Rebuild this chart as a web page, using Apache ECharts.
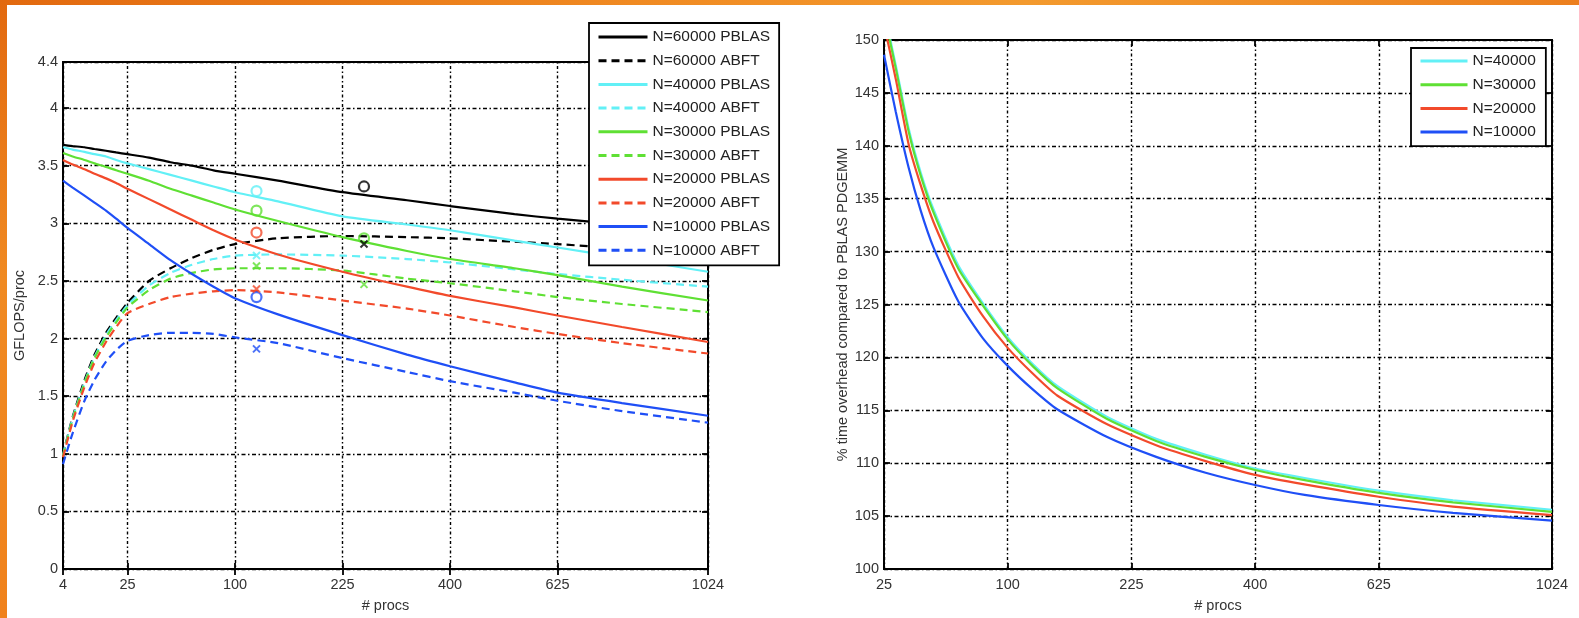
<!DOCTYPE html>
<html>
<head>
<meta charset="utf-8">
<script src="https://cdn.jsdelivr.net/npm/echarts@6.0.0/dist/echarts.min.js"></script>
<style>
  html, body { margin: 0; padding: 0; background: #fff; }
  #main { position: absolute; left: 0; top: 0; width: 1579px; height: 618px; }
  #barTop { position: absolute; left: 0; top: 0; width: 1579px; height: 5px; z-index: 5;
    background: linear-gradient(90deg, #e2690f 0%, #f08a22 40%, #f39a2e 65%, #ec7f1e 100%); }
  #barLeft { position: absolute; left: 0; top: 0; width: 7px; height: 618px; z-index: 5;
    background: linear-gradient(180deg, #e2690f 0%, #f08a22 45%, #f0821c 100%); }
</style>
</head>
<body>
<div id="main"></div>
<div id="barTop"></div>
<div id="barLeft"></div>
<script>
// ---- left plot: GFLOPS/proc vs # procs ----
var procs = [4, 6, 9, 12, 16, 20, 25, 36, 49, 64, 81, 100, 144, 225, 324, 400, 529, 625, 784, 1024];
var pblas60000 = [3.68, 3.67, 3.66, 3.645, 3.63, 3.615, 3.60, 3.57, 3.53, 3.50, 3.46, 3.43, 3.37, 3.27, 3.20, 3.15, 3.08, 3.04, 2.99, 2.93];
var abft60000  = [0.99, 1.32, 1.64, 1.86, 2.05, 2.18, 2.31, 2.50, 2.61, 2.70, 2.77, 2.82, 2.87, 2.89, 2.88, 2.87, 2.84, 2.82, 2.78, 2.72];
var pblas40000 = [3.66, 3.64, 3.62, 3.60, 3.58, 3.55, 3.52, 3.47, 3.42, 3.37, 3.32, 3.27, 3.19, 3.06, 2.99, 2.94, 2.85, 2.79, 2.70, 2.58];
var abft40000  = [0.99, 1.31, 1.62, 1.84, 2.03, 2.16, 2.29, 2.46, 2.57, 2.64, 2.69, 2.72, 2.73, 2.72, 2.69, 2.66, 2.60, 2.56, 2.51, 2.45];
var pblas30000 = [3.61, 3.58, 3.55, 3.52, 3.49, 3.46, 3.43, 3.37, 3.30, 3.24, 3.18, 3.12, 3.02, 2.88, 2.76, 2.69, 2.61, 2.55, 2.45, 2.33];
var abft30000  = [0.98, 1.30, 1.61, 1.83, 2.01, 2.14, 2.27, 2.42, 2.52, 2.57, 2.60, 2.61, 2.61, 2.59, 2.52, 2.48, 2.41, 2.36, 2.30, 2.23];
var pblas20000 = [3.55, 3.51, 3.47, 3.43, 3.39, 3.35, 3.30, 3.21, 3.12, 3.03, 2.94, 2.86, 2.73, 2.58, 2.45, 2.37, 2.27, 2.20, 2.10, 1.97];
var abft20000  = [0.97, 1.28, 1.58, 1.79, 1.97, 2.10, 2.22, 2.30, 2.36, 2.39, 2.41, 2.42, 2.40, 2.33, 2.26, 2.20, 2.10, 2.04, 1.96, 1.87];
var pblas10000 = [3.37, 3.31, 3.24, 3.18, 3.11, 3.04, 2.96, 2.82, 2.68, 2.56, 2.45, 2.35, 2.21, 2.03, 1.86, 1.76, 1.62, 1.53, 1.44, 1.33];
var abft10000  = [0.91, 1.18, 1.46, 1.64, 1.80, 1.90, 1.98, 2.03, 2.05, 2.05, 2.04, 2.01, 1.96, 1.83, 1.71, 1.63, 1.53, 1.46, 1.37, 1.27];

// measured points: o = PBLAS, x = ABFT   [procs, value]
var pblasPts60000 = [[256, 3.32]];
var pblasPts40000 = [[121, 3.28]];
var pblasPts30000 = [[121, 3.11], [256, 2.87]];
var pblasPts20000 = [[121, 2.92]];
var pblasPts10000 = [[121, 2.36]];
var abftPts60000 = [[256, 2.82]];
var abftPts40000 = [[121, 2.72]];
var abftPts30000 = [[121, 2.63], [256, 2.47]];
var abftPts20000 = [[121, 2.43]];
var abftPts10000 = [[121, 1.91]];

var procTicks = [4, 25, 100, 225, 400, 625, 1024];
var gflopsTicks = [0, 0.5, 1, 1.5, 2, 2.5, 3, 3.5, 4, 4.4];

// ---- right plot: % overhead ----
var ovhProcs = [25, 30, 36, 42, 49, 64, 81, 100, 121, 144, 196, 256, 324, 400, 484, 625, 784, 1024];
var ovh40000 = [152.8, 147.6, 141.6, 137.5, 134.0, 128.7, 125.1, 121.9, 119.4, 117.3, 114.4, 112.3, 110.8, 109.5, 108.6, 107.4, 106.5, 105.6];
var ovh30000 = [152.5, 147.3, 141.3, 137.2, 133.7, 128.4, 124.9, 121.7, 119.2, 117.1, 114.2, 112.1, 110.6, 109.36, 108.4, 107.2, 106.3, 105.4];
var ovh20000 = [151.5, 146.3, 140.1, 136.3, 132.8, 127.6, 123.9, 120.9, 118.5, 116.4, 113.7, 111.7, 110.2, 108.9, 108.0, 106.83, 105.9, 105.1];
var ovh10000 = [148.6, 143.2, 137.9, 133.9, 130.4, 125.3, 121.8, 119.2, 117.0, 115.1, 112.5, 110.6, 109.1, 107.94, 107.0, 106.05, 105.3, 104.57];
var ovhProcTicks = [25, 100, 225, 400, 625, 1024];
var ovhTicks = [100, 105, 110, 115, 120, 125, 130, 135, 140, 145, 150];

var cBlack = '#000000', cCyan = '#62f0f6', cGreen = '#5fe034', cRed = '#f24a2b', cBlue = '#1f4ff6';
var font = 'Liberation Sans, Arial, sans-serif';

// x axis is linear in sqrt(procs)
function toSqrt(list) { return list.map(function (p) { return Math.sqrt(p); }); }
function pairs(xs, ys) { return xs.map(function (p, i) { return [Math.sqrt(p), ys[i]]; }); }
function pts(list) { return list.map(function (d) { return [Math.sqrt(d[0]), d[1]]; }); }

var gridLineX = { show: true, lineStyle: { color: '#000', width: 1.4, type: [1.5, 2.5, 3, 2.5] } };
var gridLineY = { show: true, lineStyle: { color: '#000', width: 1.4, type: [4, 2.5, 1.5, 2.5] } };

function xAx(grid, pos, ticks, main, minP, maxP) {
  var vals = toSqrt(ticks);
  return {
    type: 'value', gridIndex: grid, position: pos,
    min: Math.sqrt(minP), max: Math.sqrt(maxP),
    name: main ? '# procs' : '', nameLocation: 'middle', nameGap: 29,
    nameTextStyle: { fontFamily: font, fontSize: 14.5, color: '#333' },
    axisLine: { show: true, lineStyle: { color: '#000', width: 1.8 } },
    axisTick: { show: true, inside: true, length: 6, customValues: vals, lineStyle: { color: '#000', width: 1.8 } },
    axisLabel: { show: main, customValues: vals, margin: 8, fontFamily: font, fontSize: 14.5, color: '#333',
      formatter: function (v) { return String(Math.round(v * v)); } },
    splitLine: main ? gridLineX : { show: false }
  };
}
function yAx(grid, pos, ticks, main, mn, mx, step, nm, gap) {
  return {
    type: 'value', gridIndex: grid, position: pos, min: mn, max: mx, interval: step,
    name: main ? nm : '', nameLocation: 'middle', nameGap: gap,
    nameTextStyle: { fontFamily: font, fontSize: 14.5, color: '#333' },
    axisLine: { show: true, lineStyle: { color: '#000', width: 1.8 } },
    axisTick: { show: true, inside: true, length: 6, customValues: ticks, lineStyle: { color: '#000', width: 1.8 } },
    axisLabel: { show: main, customValues: ticks, margin: 5, fontFamily: font, fontSize: 14.5, color: '#333' },
    splitLine: main ? gridLineY : { show: false }
  };
}

function line(name, data, color, dashed, xi) {
  return {
    name: name, type: 'line', xAxisIndex: xi, yAxisIndex: xi, data: data,
    symbol: 'none', showSymbol: false, silent: true, z: 3,
    smooth: 0.2,
    lineStyle: { color: color, width: 2.2, type: dashed ? [8, 5] : 'solid' },
    itemStyle: { color: color }
  };
}
function marks(data, color, isX) {
  return {
    type: 'scatter', xAxisIndex: 0, yAxisIndex: 0, data: pts(data), silent: true, z: 4,
    symbol: isX ? 'path://M0,0L10,10M10,0L0,10' : 'circle',
    symbolSize: isX ? 7 : 10,
    itemStyle: { color: 'rgba(0,0,0,0)', borderColor: color, borderWidth: isX ? 2 : 2.2 }
  };
}

var leftNames = ['N=60000 PBLAS', 'N=60000 ABFT', 'N=40000 PBLAS', 'N=40000 ABFT', 'N=30000 PBLAS',
  'N=30000 ABFT', 'N=20000 PBLAS', 'N=20000 ABFT', 'N=10000 PBLAS', 'N=10000 ABFT'];
var rightNames = ['N=40000', 'N=30000', 'N=20000', 'N=10000'];

var legendBase = {
  orient: 'vertical', backgroundColor: '#fff', borderColor: '#000', borderWidth: 1.8, borderRadius: 0,
  itemHeight: 14, itemGap: 7.7, selectedMode: false,
  itemStyle: { color: 'rgba(0,0,0,0)', opacity: 0, borderWidth: 0 },
  lineStyle: { width: 3 },
  textStyle: { fontFamily: font, fontSize: 15.5, color: '#222' }
};

var chart = echarts.init(document.getElementById('main'), null, { renderer: 'canvas' });
var option = {
  animation: false,
  backgroundColor: '#fff',
  grid: [
    { left: 63, top: 62, right: 871, bottom: 46, show: true, borderColor: '#000', borderWidth: 1.8, backgroundColor: 'transparent' },
    { left: 884, top: 40, right: 27, bottom: 49, show: true, borderColor: '#000', borderWidth: 1.8, backgroundColor: 'transparent' }
  ],
  xAxis: [
    xAx(0, 'bottom', procTicks, true, 4, 1024),
    xAx(0, 'top', procTicks, false, 4, 1024),
    xAx(1, 'bottom', ovhProcTicks, true, 25, 1024),
    xAx(1, 'top', ovhProcTicks, false, 25, 1024)
  ],
  yAxis: [
    yAx(0, 'left', gflopsTicks, true, 0, 4.4, 0.5, 'GFLOPS/proc', 36),
    yAx(0, 'right', gflopsTicks, false, 0, 4.4, 0.5, '', 0),
    yAx(1, 'left', ovhTicks, true, 100, 150, 5, '% time overhead compared to PBLAS PDGEMM', 32),
    yAx(1, 'right', ovhTicks, false, 100, 150, 5, '', 0)
  ],
  legend: [
    Object.assign({}, legendBase, {
      left: 589, top: 23, data: leftNames, padding: [6, 9, 7, 8], itemWidth: 49
    }),
    Object.assign({}, legendBase, {
      left: 1411, top: 48, data: rightNames, padding: [5, 10, 6, 8], itemWidth: 47
    })
  ],
  series: [
    line('N=60000 PBLAS', pairs(procs, pblas60000), cBlack, false, 0),
    line('N=60000 ABFT', pairs(procs, abft60000), cBlack, true, 0),
    line('N=40000 PBLAS', pairs(procs, pblas40000), cCyan, false, 0),
    line('N=40000 ABFT', pairs(procs, abft40000), cCyan, true, 0),
    line('N=30000 PBLAS', pairs(procs, pblas30000), cGreen, false, 0),
    line('N=30000 ABFT', pairs(procs, abft30000), cGreen, true, 0),
    line('N=20000 PBLAS', pairs(procs, pblas20000), cRed, false, 0),
    line('N=20000 ABFT', pairs(procs, abft20000), cRed, true, 0),
    line('N=10000 PBLAS', pairs(procs, pblas10000), cBlue, false, 0),
    line('N=10000 ABFT', pairs(procs, abft10000), cBlue, true, 0),
    marks(pblasPts60000, cBlack, false),
    marks(pblasPts40000, cCyan, false),
    marks(pblasPts30000, cGreen, false),
    marks(pblasPts20000, cRed, false),
    marks(pblasPts10000, cBlue, false),
    marks(abftPts60000, cBlack, true),
    marks(abftPts40000, cCyan, true),
    marks(abftPts30000, cGreen, true),
    marks(abftPts20000, cRed, true),
    marks(abftPts10000, cBlue, true),
    line('N=40000', pairs(ovhProcs, ovh40000), cCyan, false, 2),
    line('N=30000', pairs(ovhProcs, ovh30000), cGreen, false, 2),
    line('N=20000', pairs(ovhProcs, ovh20000), cRed, false, 2),
    line('N=10000', pairs(ovhProcs, ovh10000), cBlue, false, 2)
  ]
};
chart.setOption(option);
</script>
</body>
</html>
